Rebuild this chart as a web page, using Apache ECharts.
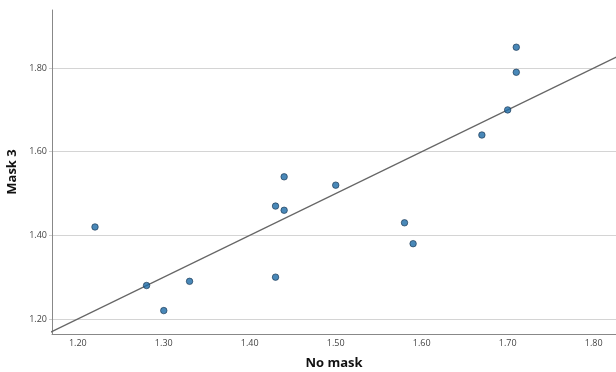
<!DOCTYPE html>
<html>
<head>
<meta charset="utf-8">
<script src="https://cdn.jsdelivr.net/npm/echarts@6/dist/echarts.min.js"></script>
<style>
  html, body { margin: 0; padding: 0; background: #fff; }
  #chart { width: 616px; height: 372px; }
</style>
</head>
<body>
<div id="chart"></div>
<script>
const noMask = [1.22, 1.28, 1.30, 1.33, 1.43, 1.44, 1.44, 1.43, 1.50, 1.58, 1.59, 1.67, 1.70, 1.71, 1.71];
const mask3 = [1.42, 1.28, 1.22, 1.29, 1.47, 1.54, 1.46, 1.30, 1.52, 1.43, 1.38, 1.64, 1.70, 1.79, 1.85];
const xTicks = [1.2, 1.3, 1.4, 1.5, 1.6, 1.7, 1.8];
const yTicks = [1.2, 1.4, 1.6, 1.8];
// y = x reference line ends
const refLine = [1.1, 1.95];

const chart = echarts.init(document.getElementById('chart'));

const option = {
  animation: false,
  grid: { left: 52, right: 0, top: 10, bottom: 38, outerBoundsMode: 'none' },
  xAxis: {
    type: 'value',
    min: 1.17,
    max: 1.826,
    name: 'No mask',
    nameLocation: 'middle',
    nameGap: 23,
    nameTextStyle: { fontFamily: 'Open Sans', fontWeight: 'bold', fontSize: 13, color: '#111' },
    axisLine: { show: true, lineStyle: { color: '#888', width: 1 } },
    axisTick: { show: false, customValues: xTicks },
    splitLine: { show: false },
    axisLabel: {
      customValues: xTicks,
      formatter: v => v.toFixed(2),
      fontFamily: 'Open Sans',
      fontSize: 9,
      color: '#444',
      margin: 5
    }
  },
  yAxis: {
    type: 'value',
    min: 1.164,
    max: 1.939,
    name: 'Mask 3',
    nameLocation: 'middle',
    nameGap: 31,
    nameTextStyle: { fontFamily: 'Open Sans', fontWeight: 'bold', fontSize: 13, color: '#111' },
    axisLine: { show: true, lineStyle: { color: '#888', width: 1 } },
    axisTick: { show: true, length: 3, customValues: yTicks, lineStyle: { color: '#ccc' } },
    splitLine: { show: true, lineStyle: { color: '#d4d4d4', width: 1 } },
    axisLabel: {
      customValues: yTicks,
      formatter: v => v.toFixed(2),
      fontFamily: 'Open Sans',
      fontSize: 9,
      color: '#444',
      margin: 5
    }
  },
  series: [
    {
      type: 'line',
      data: refLine.map(v => [v, v]),
      symbol: 'none',
      clip: true,
      lineStyle: { color: '#666', width: 1.2 },
      z: 1
    },
    {
      type: 'scatter',
      data: noMask.map((x, i) => [x, mask3[i]]),
      symbolSize: 6.5,
      itemStyle: { color: '#1c6aa6', borderColor: '#17334d', borderWidth: 0.8 },
      z: 3
    }
  ]
};

chart.setOption(option);
</script>
</body>
</html>
